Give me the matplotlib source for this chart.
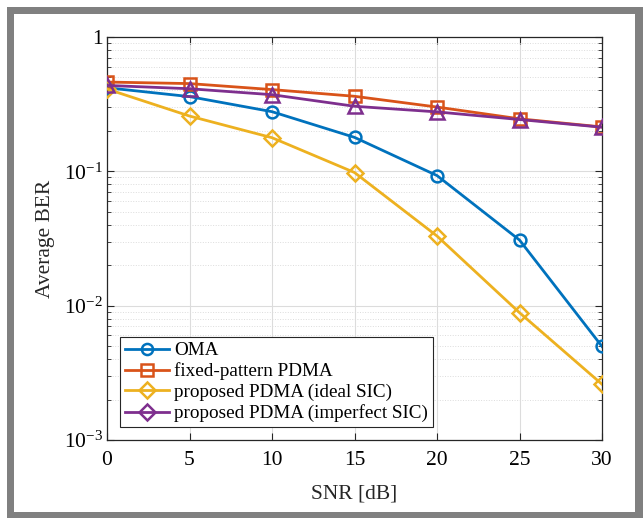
import matplotlib
matplotlib.use("Agg")
import matplotlib.pyplot as plt
from matplotlib.lines import Line2D
from matplotlib.patches import Rectangle
from matplotlib.ticker import FixedLocator, LogLocator, NullFormatter

plt.rcParams['font.family'] = ['Liberation Serif', 'DejaVu Serif']
plt.rcParams['mathtext.fontset'] = 'custom'
plt.rcParams['mathtext.rm'] = 'Liberation Serif'
plt.rcParams['mathtext.it'] = 'Liberation Serif:italic'

snr = [0, 5, 10, 15, 20, 25, 30]
oma = [0.419, 0.360, 0.278, 0.179, 0.093, 0.0308, 0.00497]
fixed = [0.462, 0.450, 0.406, 0.362, 0.301, 0.246, 0.214]
ideal = [0.410, 0.258, 0.178, 0.098, 0.033, 0.00887, 0.0026]
imperfect = [0.436, 0.412, 0.372, 0.305, 0.277, 0.243, 0.213]

labels = ['OMA', 'fixed-pattern PDMA', 'proposed PDMA (ideal SIC)',
          'proposed PDMA (imperfect SIC)']
colors = ['#0072BD', '#D95319', '#EDB120', '#7E2F8E']
markers = ['o', 's', 'D', '^']
legend_markers = ['o', 's', 'D', 'D']
xticks = [0, 5, 10, 15, 20, 25, 30]
ytick_vals = [1e-3, 1e-2, 1e-1, 1]
ytick_labels = ['$10^{-3}$', '$10^{-2}$', '$10^{-1}$', '1']

fig = plt.figure(figsize=(6.43, 5.18), dpi=100)
W, H = 643, 518
fig.patches.append(Rectangle((7 / W, 0), 1 - 7 / W, 1 - 7 / H, transform=fig.transFigure,
                             facecolor='#808080', edgecolor='none', zorder=-10))
fig.patches.append(Rectangle((14 / W, 6 / H), (635 - 14) / W, (512 - 14) / H,
                             transform=fig.transFigure, facecolor='white',
                             edgecolor='none', zorder=-9))

ax = fig.add_axes([107 / W, (518 - 440) / H, (602 - 107) / W, (440 - 37) / H])
series = [oma, fixed, ideal, imperfect]
msizes = [8.5, 8, 8, 9.5]
for y, c, m, ms in zip(series, colors, markers, msizes):
    ax.plot(snr, y, color=c, marker=m, markersize=ms, markerfacecolor='none',
            markeredgewidth=1.8, linewidth=2.0, zorder=3)

ax.set_yscale('log')
ax.set_xlim(0, 30)
ax.set_ylim(1e-3, 1)
ax.set_xticks(xticks)
ax.set_xticklabels([str(v) for v in xticks])
ax.yaxis.set_major_locator(FixedLocator(ytick_vals))
ax.set_yticklabels(ytick_labels)
ax.yaxis.set_minor_locator(LogLocator(base=10, subs=range(2, 10), numticks=20))
ax.yaxis.set_minor_formatter(NullFormatter())

ax.grid(True, which='major', color='#dcdcdc', linewidth=0.8, linestyle='-')
ax.grid(True, which='minor', axis='y', color='#dcdcdc', linewidth=0.7, linestyle=':')
ax.set_axisbelow(True)

ax.tick_params(which='both', direction='in', top=True, right=True, labelsize=15.5,
               color='#262626', pad=3)
ax.tick_params(axis='x', which='major', pad=8)
ax.tick_params(which='major', length=5, width=0.8)
ax.tick_params(which='minor', length=3, width=0.6)
for s in ax.spines.values():
    s.set_color('#262626')
    s.set_linewidth(0.9)

ax.set_xlabel('SNR [dB]', fontsize=15.5, color='#262626', labelpad=10)
ax.set_ylabel('Average BER', fontsize=15.5, color='#262626', labelpad=6)

handles = [Line2D([0], [0], color=c, marker=m, markersize=8, markerfacecolor='none',
                  markeredgewidth=1.8, linewidth=2.0)
           for c, m in zip(colors, legend_markers)]
leg = ax.legend(handles, labels, loc='lower left', bbox_to_anchor=(0.026, 0.032),
                fontsize=13.8, frameon=True, fancybox=False, edgecolor='#262626',
                framealpha=1, handlelength=2.3, handletextpad=0.3, borderpad=0.25,
                labelspacing=0.17, borderaxespad=0)
leg.get_frame().set_linewidth(0.8)

fig.savefig('out.png', dpi=100)
